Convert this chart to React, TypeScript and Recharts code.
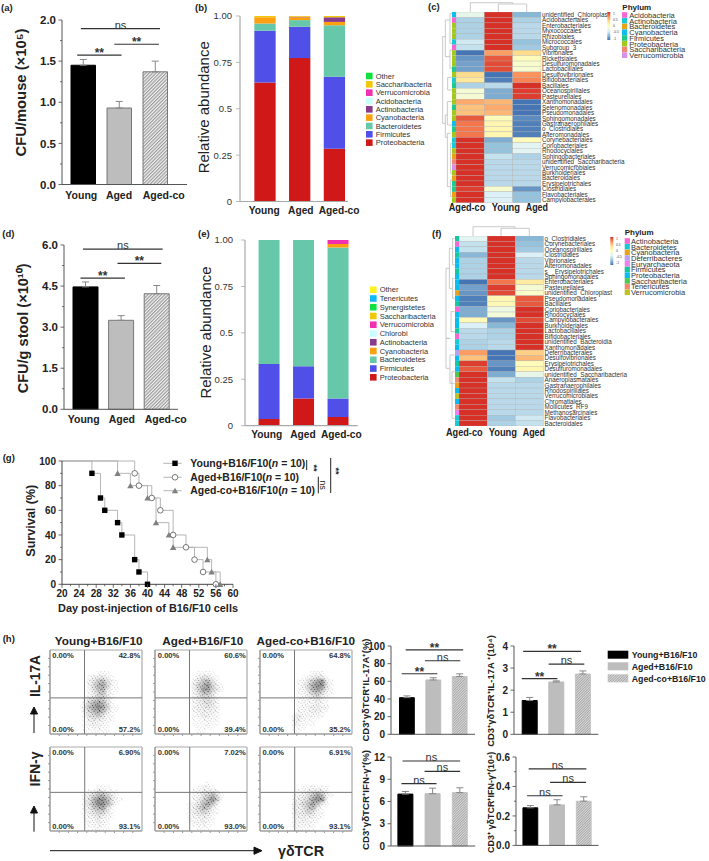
import React from 'react';
import { BarChart, Bar, XAxis, YAxis, Cell, ErrorBar, ReferenceLine, LineChart, Line, ScatterChart, Scatter } from 'recharts';

const categories = ['Young', 'Aged', 'Aged-co'];

// panel (a)
const aValues = [1.45, 0.93, 1.37];
const aErrors = [0.07, 0.08, 0.13];
// panel (d)
const dValues = [4.47, 3.25, 4.22];
const dErrors = [0.18, 0.17, 0.3];
// panel (h) bars
const h1Values = [41.5, 61.5, 65.5];
const h1Errors = [2, 2.5, 3];
const h2Values = [1.53, 2.37, 2.73];
const h2Errors = [0.14, 0.05, 0.14];
const h3Values = [7, 7.05, 7.2];
const h3Errors = [0.35, 0.75, 0.65];
const h4Values = [0.255, 0.275, 0.3];
const h4Errors = [0.015, 0.035, 0.03];

// panel (b) stacks
const bLegend = ['Other', 'Saccharibacteria', 'Verrucomicrobia', 'Acidobacteria', 'Actinobacteria', 'Cyanobacteria', 'Bacteroidetes', 'Firmicutes', 'Proteobacteria'];
const bProteobacteria = [0.642, 0.773, 0.284];
const bFirmicutes = [0.278, 0.169, 0.389];
const bBacteroidetes = [0.04, 0.036, 0.277];
const bCyanobacteria = [0.033, 0.015, 0.018];
const bActinobacteria = [0, 0.003, 0.025];
const bSaccharibacteria = [0.007, 0.004, 0.007];
// panel (e) stacks
const eLegend = ['Other', 'Tenericutes', 'Synergistetes', 'Saccharibacteria', 'Verrucomicrobia', 'Chlorobi', 'Actinobacteria', 'Cyanobacteria', 'Bacteroidetes', 'Firmicutes', 'Proteobacteria'];
const eProteobacteria = [0.036, 0.147, 0.047];
const eFirmicutes = [0.296, 0.173, 0.1];
const eBacteroidetes = [0.668, 0.68, 0.812];
const eCyanobacteria = [0, 0, 0.019];
const eVerrucomicrobia = [0, 0, 0.022];

const phylumColors: Record<string, string> = {
  Other: '#10E040', Saccharibacteria: '#F0C808', Verrucomicrobia: '#F030B0', Acidobacteria: '#C8FFFF', Actinobacteria: '#8A3C8C',
  Cyanobacteria: '#FFA010', Bacteroidetes: '#66C8A8', Firmicutes: '#5050E8', Proteobacteria: '#D01818',
  Tenericutes: '#10B8F8', Synergistetes: '#10E040', Chlorobi: '#C8FFFF',
};

// panel (c) heatmap
const cRows = ['unidentified_Chloroplast', 'Acidobacteriales', 'Enterobacteriales', 'Myxococcales', 'Rhizobiales', 'Micrococcales', 'Subgroup_3', 'Vibrionales', 'Rickettsiales', 'Desulfuromonadales', 'Lactobacillales', 'Desulfovibrionales', 'Bifidobacteriales', 'Bacillales', 'Oceanospirillales', 'Pasteurellales', 'Xanthomonadales', 'Selenomonadales', 'Pseudomonadales', 'Sphingomonadales', 'Gastranaerophilales', 'o_Clostridiales', 'Alteromonadales', 'Corynebacteriales', 'Coriobacteriales', 'Rhodocyclales', 'Sphingobacteriales', 'unidentified_Saccharibacteria', 'Verrucomicrobiales', 'Burkholderiales', 'Bacteroidales', 'Erysipelotrichales', 'Clostridiales', 'Flavobacteriales', 'Campylobacterales'];
const cAgedCo = [-0.25, -0.55, -0.55, -0.55, -0.55, -0.4, -0.45, -1, -0.85, -0.8, -0.8, 0.35, 0.25, -0.55, -0.12, -0.12, 0.55, 0.45, 0.45, 0.85, 0.75, 0.75, 0.75, 1, 1, 1, 1, 1, 1, 1, 1, 1, 0.95, 1, 1];
const cYoung = [1, 1, 1, 1, 1, 1, 1, 0.6, 0.85, 0.9, 0.9, -1, -0.95, -0.5, -0.75, -0.75, 0.5, 0.55, 0.5, 0.03, 0.1, 0.1, 0.1, -0.75, -0.65, -0.65, -0.45, -0.5, -0.5, -0.5, -0.5, -0.5, -0.1, -0.35, -0.35];
const cAged = [-0.7, -0.55, -0.5, -0.5, -0.5, -0.65, -0.6, 0.35, 0.03, -0.08, -0.1, 0.65, 0.7, 1, 0.95, 0.95, -1, -1, -1, -0.9, -0.95, -0.95, -0.95, 0.03, -0.3, -0.3, -0.55, -0.5, -0.5, -0.5, -0.5, -0.5, -0.85, -0.65, -0.65];
const cPhyla = ['Cyanobacteria', 'Acidobacteria', 'Proteobacteria', 'Proteobacteria', 'Proteobacteria', 'Actinobacteria', 'Acidobacteria', 'Proteobacteria', 'Proteobacteria', 'Proteobacteria', 'Firmicutes', 'Proteobacteria', 'Actinobacteria', 'Firmicutes', 'Proteobacteria', 'Proteobacteria', 'Proteobacteria', 'Firmicutes', 'Proteobacteria', 'Proteobacteria', 'Cyanobacteria', 'Firmicutes', 'Proteobacteria', 'Actinobacteria', 'Actinobacteria', 'Proteobacteria', 'Bacteroidetes', 'Saccharibacteria', 'Verrucomicrobia', 'Proteobacteria', 'Bacteroidetes', 'Firmicutes', 'Firmicutes', 'Bacteroidetes', 'Proteobacteria'];
const cLegend = ['Acidobacteria', 'Actinobacteria', 'Bacteroidetes', 'Cyanobacteria', 'Firmicutes', 'Proteobacteria', 'Saccharibacteria', 'Verrucomicrobia'];
const cPhylumColors: Record<string, string> = { Acidobacteria: '#F766D3', Actinobacteria: '#19C9D6', Bacteroidetes: '#E8A21A', Cyanobacteria: '#10BCEC', Firmicutes: '#20C88C', Proteobacteria: '#A2C820', Saccharibacteria: '#F08878', Verrucomicrobia: '#D88FEA' };

// panel (f) heatmap
const fRows = ['o_Clostridiales', 'Corynebacteriales', 'Oceanospirillales', 'Clostridiales', 'Vibrionales', 'Alteromonadales', 's__Erysipelotrichales', 'Sphingomonadales', 'Enterobacteriales', 'Pasteurellales', 'unidentified_Chloroplast', 'Pseudomonadales', 'Bacillales', 'Coriobacteriales', 'Rhodocyclales', 'Campylobacterales', 'Burkholderiales', 'Lactobacillales', 'Bifidobacteriales', 'unidentified_Bacteroidia', 'Xanthomonadales', 'Deferribacterales', 'Desulfovibrionales', 'Erysipelotrichales', 'Desulfuromonadales', 'unidentified_Saccharibacteria', 'Anaeroplasmatales', 'Gastranaerophilales', 'Rhodospirillales', 'Verrucomicrobiales', 'Chromatiales', 'Mollicutes_RF9', 'Methanosarcinales', 'Flavobacteriales', 'Bacteroidales'];
const fAgedCo = [-0.3, -0.45, -0.45, -0.7, -0.55, -0.55, -0.55, -0.55, -1, -0.8, -0.85, -0.95, -0.95, -0.75, -0.75, 0.06, -0.35, -0.5, -0.5, -0.55, -0.55, 0.6, 0.45, 0.95, 0.85, 1, 1, 1, 1, 1, 1, 1, 1, 1, 1];
const fYoung = [1, 1, 1, 1, 1, 1, 1, 1, 0.75, 0.95, 0.9, 0.08, 0.08, -0.2, -0.15, -0.85, -0.7, -0.55, -0.55, -0.5, -0.5, -1, -1, -0.85, -0.95, -0.75, -0.45, -0.5, -0.5, -0.5, -0.5, -0.5, -0.5, -0.6, -0.55];
const fAged = [-0.7, -0.65, -0.6, -0.35, -0.5, -0.5, -0.5, -0.5, 0.2, -0.12, -0.05, 0.85, 0.85, 1, 1, 0.9, 1, 1, 1, 1, 1, 0.4, 0.5, 0.04, 0.1, -0.25, -0.55, -0.5, -0.5, -0.5, -0.5, -0.5, -0.5, -0.4, -0.45];
const fPhyla = ['Firmicutes', 'Actinobacteria', 'Proteobacteria', 'Firmicutes', 'Proteobacteria', 'Proteobacteria', 'Firmicutes', 'Proteobacteria', 'Proteobacteria', 'Proteobacteria', 'Cyanobacteria', 'Proteobacteria', 'Firmicutes', 'Actinobacteria', 'Proteobacteria', 'Proteobacteria', 'Proteobacteria', 'Firmicutes', 'Actinobacteria', 'Bacteroidetes', 'Proteobacteria', 'Deferribacteres', 'Proteobacteria', 'Firmicutes', 'Proteobacteria', 'Saccharibacteria', 'Tenericutes', 'Cyanobacteria', 'Proteobacteria', 'Verrucomicrobia', 'Proteobacteria', 'Tenericutes', 'Euryarchaeota', 'Bacteroidetes', 'Bacteroidetes'];
const fLegend = ['Actinobacteria', 'Bacteroidetes', 'Cyanobacteria', 'Deferribacteres', 'Euryarchaeota', 'Firmicutes', 'Proteobacteria', 'Saccharibacteria', 'Tenericutes', 'Verrucomicrobia'];
const fPhylumColors: Record<string, string> = { Actinobacteria: '#F766D3', Bacteroidetes: '#19C9D6', Cyanobacteria: '#E8A21A', Deferribacteres: '#B8A0F0', Euryarchaeota: '#F080F0', Firmicutes: '#12C8A0', Proteobacteria: '#08BCF0', Saccharibacteria: '#50C850', Tenericutes: '#F08870', Verrucomicrobia: '#C0C020' };
const colorBarLabels = ['1', '0.5', '0', '-0.5', '-1'];

// panel (g) survival, [day, percent]
const gYoung = [[20, 100], [27, 90], [29, 70], [30, 60], [33, 50], [34, 40], [37, 20], [38, 10], [40, 0]];
const gAged = [[20, 100], [37, 90], [38, 80], [41, 70], [43, 60], [46, 40], [49, 30], [51, 20], [53, 10], [56, 0]];
const gAgedCo = [[20, 100], [33, 90], [36, 80], [40, 70], [42, 50], [45, 40], [46, 30], [54, 20], [55, 10], [57, 0]];

// panel (h) flow plots, estimated dot density 0-9 on a 20x20 grid, top row first
const flowYoungIL = ['', '', '', '', '', '00000000001110', '00000000133421', '00000000246742100', '00000000257852100', '00000000146731100', '00000000135631', '00000001345531', '00000002578741', '00000003689851100', '00000003578741100', '00000002456421', '00000001343321', '00000001232210', '00000001122110', '00000001111110'];
const flowAgedIL = ['', '', '', '', '', '00000000011110', '00000000134421', '00000000246741', '00000000367953100', '00000000258853100', '00000000246641', '00000000234431', '00000000234542', '00000000233432', '00000000233332', '00000000123321', '00000000112221', '00000000111211', '00000000011110', '0000000001100'];
const flowAgedCoIL = ['', '', '', '', '', '00000000000121', '00000000012343100', '00000000124689310', '00000000135899410', '00000000124786310', '00000000123564210', '00000000122342100', '00000000122232100', '00000000122332200', '00000000222332100', '00000002322221', '00000003321110', '00000003211100', '00000002110000', '00000001100000'];
const flowYoungIFN = ['', '', '', '', '', '', '', '', '', '00000000001110', '00000000124321100', '00000001356753100', '00000002479974210', '00000002479974100', '00000002367841', '00000001345531', '00000001234321', '00000001223210', '00000000122210', '00000000112110'];
const flowAgedIFN = ['', '', '', '', '', '', '', '', '00000000000100', '00000000012210', '00000000123332', '00000000124574100', '00000000235796100', '00000001246862', '00000001357631', '00000001345421', '00000001233310', '00000001223210', '00000000122110', '00000000011100'];
const flowAgedCoIFN = ['', '', '', '', '', '', '', '', '', '00000000011211100', '00000000123343200', '00000001234686310', '00000002345899200', '00000003356862100', '00000003346731', '00000003345421', '00000002333321', '00000002232210', '00000002222100', '00000001211100'];

const barFills = ['#000', '#bdbdbd', 'url(#hatch)'];
const barStrokes = ['#000', '#777', '#777'];
const barFillsH = ['#000', '#bdbdbd', 'url(#hatchFine)'];
const barStrokesH = ['#000', '#bdbdbd', '#c4c4c4'];

const FONT = '"Liberation Sans", Arial, sans-serif';

type Bracket = { x1: number; x2: number; y: number; text: string };

const box = (l: number, t: number, w: number, h: number): React.CSSProperties => ({ position: 'absolute', left: l, top: t, width: w, height: h });

const axisTick = (major: number[], fmt: (v: number) => string, fs: number, weight: number, len: number, fill: string, gap: number, stroke = '#444') => (p: any) => {
  const v = p.payload.value;
  const isMajor = major.some((m) => Math.abs(m - v) < 1e-6);
  return (
    <g>
      <line x1={p.x} x2={p.x - (isMajor ? len : len * 0.55)} y1={p.y} y2={p.y} stroke={stroke} strokeWidth={0.8} />
      {isMajor && <text x={p.x - gap} y={p.y + fs * 0.36} textAnchor="end" fontSize={fs} fontWeight={weight} fill={fill} fontFamily={FONT}>{fmt(v)}</text>}
    </g>
  );
};

const catTick = (offs: number[], fs: number, dy: number) => (p: any) => {
  const i = Math.round(p.payload.value) - 1;
  return <text x={p.x + offs[i]} y={p.y + dy} textAnchor="middle" fontSize={fs} fontWeight={700} fill="#222" fontFamily={FONT}>{categories[i]}</text>;
};

const toRows = (vals: number[], errs: number[]) => vals.map((v, i) => ({ x: i + 1, v, err: [0, errs[i]] }));

const PAD_T = 14, PAD_R = 24;

function ValueBars(props: {
  x0: number; x1: number; top: number; bottom: number; c1: number; sp: number; barW: number; max: number;
  ticks: number[]; major: number[]; fmt: (v: number) => string; vals: number[]; errs: number[]; fills: string[]; strokes: string[];
  brackets: Bracket[]; labelOffs?: number[]; fs: number;
}) {
  const { x0, x1, top, bottom, c1, sp, barW, max, ticks, major, fmt, vals, errs, fills, strokes, brackets, labelOffs, fs } = props;
  const yw = 40, xh = 20;
  const W = x1 - x0 + yw + PAD_R, H = bottom - top + xh + PAD_T;
  return (
    <div style={box(x0 - yw, top - PAD_T, W, H)}>
      <BarChart width={W} height={H} data={toRows(vals, errs)} margin={{ top: PAD_T, right: PAD_R, bottom: 0, left: 0 }}>
        <XAxis dataKey="x" type="number" domain={[1 + (x0 - c1) / sp, 1 + (x1 - c1) / sp]} ticks={labelOffs ? [1, 2, 3] : []} height={xh} tick={labelOffs ? catTick(labelOffs, 10.5, 12) : false} tickLine={false} tickSize={0} stroke="#555" allowDataOverflow />
        <YAxis type="number" domain={[0, max]} ticks={ticks} width={yw} interval={0} tick={axisTick(major, fmt, fs, 700, 3.5, '#222', 6)} tickLine={false} tickSize={0} tickMargin={0} stroke="#555" />
        <Bar dataKey="v" barSize={barW} isAnimationActive={false}>
          {vals.map((_, i) => <Cell key={i} fill={fills[i]} stroke={strokes[i]} strokeWidth={1} />)}
          <ErrorBar dataKey="err" direction="y" width={3.5} stroke="#888" strokeWidth={1} isAnimationActive={false} />
        </Bar>
        {brackets.map((b, i) => (
          <ReferenceLine key={i} segment={[{ x: b.x1, y: b.y }, { x: b.x2, y: b.y }]} stroke="#333" strokeWidth={1.2} ifOverflow="visible"
            label={{ value: b.text, position: 'top', offset: b.text === 'ns' ? 0 : -2, fontSize: b.text === 'ns' ? 11 : 12, fill: '#333', fontFamily: FONT, fontWeight: b.text === 'ns' ? 400 : 700 }} />
        ))}
      </BarChart>
    </div>
  );
}

function StackBars(props: {
  x0: number; x1: number; top: number; bottom: number; c1: number; sp: number; barW: number;
  series: { key: string; vals: number[] }[]; labelOffs: number[]; gap: number;
}) {
  const { x0, x1, top, bottom, c1, sp, barW, series, labelOffs, gap } = props;
  const yw = 40, xh = 20;
  const W = x1 - x0 + yw + PAD_R, H = bottom - top + xh + PAD_T;
  const rows = categories.map((_, i) => { const r: any = { x: i + 1 }; series.forEach((s) => { r[s.key] = s.vals[i]; }); return r; });
  return (
    <div style={box(x0 - yw, top - PAD_T, W, H)}>
      <BarChart width={W} height={H} data={rows} margin={{ top: PAD_T, right: PAD_R, bottom: 0, left: 0 }}>
        <XAxis dataKey="x" type="number" domain={[1 + (x0 - c1) / sp, 1 + (x1 - c1) / sp]} ticks={[1, 2, 3]} height={xh} tick={catTick(labelOffs, 10.2, 10)} tickLine={false} tickSize={0} stroke="#aaa" strokeWidth={1.2} allowDataOverflow />
        <YAxis type="number" domain={[0, 1]} ticks={[0, 0.25, 0.5, 0.75, 1]} width={yw} interval={0}
          tick={axisTick([0, 0.25, 0.5, 0.75, 1], (v) => (v === 0 ? '0' : v === 1 ? '1.00' : String(v)), 9.5, 400, 4, '#333', gap, '#aaa')} tickLine={false} tickSize={0} tickMargin={0} stroke="#aaa" strokeWidth={1.2} />
        {series.map((s) => <Bar key={s.key} dataKey={s.key} stackId="a" barSize={barW} fill={phylumColors[s.key]} isAnimationActive={false} />)}
      </BarChart>
    </div>
  );
}

const ramp: [number, number[]][] = [[-1, [69, 117, 180]], [-0.667, [145, 191, 219]], [-0.333, [224, 243, 248]], [0, [255, 255, 191]], [0.333, [254, 224, 144]], [0.667, [252, 141, 89]], [1, [215, 48, 39]]];
const heatColor = (v: number) => {
  for (let i = 1; i < ramp.length; i++) {
    if (v <= ramp[i][0]) {
      const t = (v - ramp[i - 1][0]) / (ramp[i][0] - ramp[i - 1][0]);
      const c = ramp[i][1].map((b, k) => Math.round(ramp[i - 1][1][k] + (b - ramp[i - 1][1][k]) * t));
      return `rgb(${c.join(',')})`;
    }
  }
  return 'rgb(215,48,39)';
};

function Heat(props: { x0: number; annW: number; colW: number; top: number; rowH: number; rows: string[]; cols: number[][]; phyla: string[]; colors: Record<string, string> }) {
  const { x0, annW, colW, top, rowH, rows, cols, phyla, colors } = props;
  const n = rows.length, labelW = 105;
  const plotW = annW + colW * 3;
  const unit = annW / colW;
  const cells: any[] = [];
  rows.forEach((_, r) => {
    cols.forEach((col, c) => cells.push({ x: c + 0.5, y: r + 0.5, fill: heatColor(col[r]), w: colW, bw: 0.3 }));
    cells.push({ x: -unit / 2, y: r + 0.5, fill: colors[phyla[r]], w: annW, bw: 0 });
  });
  const shape = (p: any) => {
    const d = p.payload;
    return <rect x={p.cx - d.w / 2} y={p.cy - rowH / 2} width={d.w} height={rowH} fill={d.fill} stroke={d.bw ? '#a9a9a9' : 'none'} strokeWidth={d.bw} />;
  };
  return (
    <div style={box(x0, top, plotW + labelW, rowH * n)}>
      <ScatterChart width={plotW + labelW} height={rowH * n} margin={{ top: 0, right: 0, bottom: 0, left: 0 }}>
        <XAxis dataKey="x" type="number" domain={[-unit, 3]} hide />
        <YAxis dataKey="y" type="number" orientation="right" reversed domain={[0, n]} ticks={rows.map((_, i) => i + 0.5)} interval={0} width={labelW}
          tickFormatter={(v: number) => rows[Math.floor(v)]} tick={{ fontSize: 6.3, fill: '#333', fontFamily: FONT }} axisLine={false} tickLine={false} tickSize={0} tickMargin={1} />
        <Scatter data={cells} shape={shape} isAnimationActive={false} />
      </ScatterChart>
    </div>
  );
}

const CELLW = 4.6, CELLH = 4.2;
function Flow(props: { x0: number; top: number; grid: string[]; gateX: number; gateY: number }) {
  const { x0, top, grid, gateX, gateY } = props;
  const pts: any[] = [];
  grid.forEach((row, r) => row.split('').forEach((ch, c) => { if (ch !== '0') pts.push({ x: c + 0.5, y: r + 0.5, d: Number(ch) }); }));
  const shape = (p: any) => {
    const d = p.payload.d;
    return (
      <g>
        <rect x={p.cx - CELLW / 2} y={p.cy - CELLH / 2} width={CELLW} height={CELLH} fill="#000" opacity={d * d * 0.006} style={{ filter: 'blur(1.4px)' }} />
        <rect x={p.cx - CELLW / 2} y={p.cy - CELLH / 2} width={CELLW} height={CELLH} fill="url(#stipple)" opacity={Math.min(1, 0.15 + d * 0.1)} style={{ filter: 'blur(0.25px)' }} />
      </g>
    );
  };
  const edge = [0, 20];
  return (
    <div style={box(x0 - 4, top - 2, 98, 90)}>
      <ScatterChart width={98} height={90} margin={{ top: 2, right: 2, bottom: 0, left: 0 }}>
        <XAxis dataKey="x" type="number" domain={[0, 20]} ticks={[2, 4, 6, 8, 10, 12, 14, 16, 18]} height={4} tickSize={2} tickMargin={0} tickFormatter={() => ''} stroke="#999" />
        <YAxis dataKey="y" type="number" reversed domain={[0, 20]} ticks={[2, 4, 6, 8, 10, 12, 14, 16, 18]} width={4} tickSize={2} tickMargin={0} tickFormatter={() => ''} stroke="#999" />
        <Scatter data={pts} shape={shape} isAnimationActive={false} />
        {edge.map((e) => <ReferenceLine key={'x' + e} x={e} stroke="#aaa" strokeWidth={1.2} ifOverflow="visible" />)}
        {edge.map((e) => <ReferenceLine key={'y' + e} y={e} stroke="#aaa" strokeWidth={1.2} ifOverflow="visible" />)}
        <ReferenceLine x={gateX} stroke="#777" strokeWidth={1} />
        <ReferenceLine y={gateY} stroke="#777" strokeWidth={1} />
      </ScatterChart>
    </div>
  );
}

const T = ({ x, y, s, b, a, c, rot, len, children }: any) => (
  <text x={x} y={y} fontSize={s} fontWeight={b ? 700 : 400} textAnchor={a || 'start'} fill={c || '#222'} fontFamily={FONT}
    transform={rot ? `rotate(-90 ${x} ${y})` : undefined} textLength={len} lengthAdjust={len ? 'spacingAndGlyphs' : undefined}>{children}</text>
);

const survivalRows = (arr: number[][]) => arr.map(([x, y]) => ({ x, y }));
const marker = (kind: string) => (p: any) => {
  if (p.index === 0) return <g key={p.index} />;
  return <g key={p.index}><Mark kind={kind} x={p.cx} y={p.cy} /></g>;
};
const Mark = ({ kind, x, y }: any) => {
  if (kind === 'square') return <rect x={x - 2.7} y={y - 2.7} width={5.4} height={5.4} fill="#000" />;
  if (kind === 'circle') return <circle cx={x} cy={y} r={2.8} fill="#fff" stroke="#555" strokeWidth={0.8} />;
  return <path d={`M${x - 3.2} ${y + 2.6}L${x} ${y - 3}L${x + 3.2} ${y + 2.6}Z`} fill="#808080" />;
};

const rowDendroC = [[20, 110, 370, 28], [28, 60, 170, 42], [42, 40, 130, 48], [42, 150, 205, 48], [35, 232, 270, 48], [34, 305, 375, 48], [28, 345, 412, 34], [34, 400, 560, 44], [44, 430, 520, 48], [44, 540, 590, 48]];
const rowDendroF = [[30, 130, 340, 40], [40, 70, 190, 50], [50, 40, 120, 56], [50, 160, 220, 56], [45, 260, 320, 56], [42, 390, 475, 56], [48, 440, 580, 56], [30, 340, 430, 42]];

const Dendro = ({ segs, ox, oy }: any) => (
  <g stroke="#bbb" strokeWidth={0.8} fill="none">
    {segs.map(([x, y1, y2, xe]: number[], i: number) => (
      <path key={i} d={`M${ox + xe / 3} ${oy + y1 / 3}H${ox + x / 3}V${oy + y2 / 3}H${ox + xe / 3}`} />
    ))}
  </g>
);

export default function App() {
  const flowCols = [49.7, 155.3, 260];
  const flowPct = [['42.8%', '57.2%'], ['60.6%', '39.4%'], ['64.8%', '35.2%'], ['6.90%', '93.1%'], ['7.02%', '93.0%'], ['6.91%', '93.1%']];
  const stackB = [
    { key: 'Proteobacteria', vals: bProteobacteria }, { key: 'Firmicutes', vals: bFirmicutes }, { key: 'Bacteroidetes', vals: bBacteroidetes },
    { key: 'Cyanobacteria', vals: bCyanobacteria }, { key: 'Actinobacteria', vals: bActinobacteria }, { key: 'Saccharibacteria', vals: bSaccharibacteria },
  ];
  const stackE = [
    { key: 'Proteobacteria', vals: eProteobacteria }, { key: 'Firmicutes', vals: eFirmicutes }, { key: 'Bacteroidetes', vals: eBacteroidetes },
    { key: 'Cyanobacteria', vals: eCyanobacteria }, { key: 'Verrucomicrobia', vals: eVerrucomicrobia },
  ];
  const f1 = (v: number) => v.toFixed(1);
  const fi = (v: number) => String(v);
  const eColor = (n: string) => (n === 'Other' ? '#FFF020' : phylumColors[n]);
  const hLegendRows = ['Young+B16/F10', 'Aged+B16/F10', 'Aged-co+B16/F10'];
  const gTicks = [20, 22, 24, 26, 28, 30, 32, 34, 36, 38, 40, 42, 44, 46, 48, 50, 52, 54, 56, 58, 60];
  const gMajor = [20, 24, 28, 32, 36, 40, 44, 48, 52, 56, 60];
  const xTickG = (p: any) => {
    const v = p.payload.value;
    const maj = gMajor.includes(v);
    return (
      <g>
        <line x1={p.x} x2={p.x} y1={p.y} y2={p.y + (maj ? 3.5 : 2)} stroke="#444" strokeWidth={0.8} />
        {maj && <text x={p.x} y={p.y + 13} textAnchor="middle" fontSize={10} fontWeight={700} fill="#222" fontFamily={FONT}>{v}</text>}
      </g>
    );
  };
  return (
    <div style={{ position: 'absolute', left: 0, top: 0, width: 709, height: 861, background: '#fff', overflow: 'hidden', fontFamily: FONT }}>
      <svg width={0} height={0} style={{ position: 'absolute' }}>
        <defs>
          <pattern id="hatch" width={2.4} height={2.4} patternUnits="userSpaceOnUse" patternTransform="rotate(45)">
            <rect width={2.4} height={2.4} fill="#f4f4f4" />
            <rect width={1.2} height={2.4} fill="#9a9a9a" />
          </pattern>
          <pattern id="hatchFine" width={1.8} height={1.8} patternUnits="userSpaceOnUse" patternTransform="rotate(45)">
            <rect width={1.8} height={1.8} fill="#d8d8d8" />
            <rect width={0.9} height={1.8} fill="#a8a8a8" />
          </pattern>
          <pattern id="stipple" width={11} height={9} patternUnits="userSpaceOnUse">
            {[[0.6, 1.1], [3.7, 0.3], [7.3, 1.5], [9.6, 0.2], [2, 3.1], [5.2, 2.6], [8.7, 3.6], [0.4, 4.7], [3.3, 5.2], [6.5, 4.6], [10, 5.4], [1.7, 7], [4.8, 7.4], [7.8, 6.6], [9.2, 8]].map(([x, y], i) => (
              <rect key={i} x={x} y={y} width={0.8} height={0.8} fill="#111" />
            ))}
          </pattern>
          <linearGradient id="heatBar" x1="0" y1="0" x2="0" y2="1">
            {ramp.slice().reverse().map(([v, c], i) => <stop key={i} offset={(1 - v) / 2} stopColor={`rgb(${c.join(',')})`} />)}
          </linearGradient>
        </defs>
      </svg>

      <ValueBars x0={62} x1={187} top={20} bottom={184.5} c1={83} sp={36} barW={24.5} max={2}
        ticks={[0, 0.25, 0.5, 0.75, 1, 1.25, 1.5, 1.75, 2]} major={[0, 0.5, 1, 1.5, 2]} fmt={f1} vals={aValues} errs={aErrors} fills={barFills} strokes={barStrokes} fs={11.5}
        labelOffs={[-1.7, 0, 8.7]}
        brackets={[{ x1: 0.94, x2: 3.14, y: 1.894, text: 'ns' }, { x1: 1.87, x2: 3.11, y: 1.705, text: '**' }, { x1: 0.84, x2: 2.07, y: 1.574, text: '**' }]} />
      <ValueBars x0={64} x1={178} top={245} bottom={409.3} c1={85.8} sp={35.6} barW={25} max={6}
        ticks={[0, 0.75, 1.5, 2.25, 3, 3.75, 4.5, 5.25, 6]} major={[0, 1.5, 3, 4.5, 6]} fmt={f1} vals={dValues} errs={dErrors} fills={barFills} strokes={barStrokes} fs={11.5}
        labelOffs={[-2.1, 0.4, 8.7]}
        brackets={[{ x1: 0.92, x2: 3.16, y: 5.85, text: 'ns' }, { x1: 1.89, x2: 3.12, y: 5.33, text: '**' }, { x1: 0.85, x2: 2.1, y: 4.79, text: '**' }]} />

      <StackBars x0={240} x1={348} top={15.5} bottom={201} c1={264.7} sp={34.7} barW={21.3} series={stackB} labelOffs={[-0.4, 1.4, 5]} gap={8} />
      <StackBars x0={245} x1={357.7} top={240} bottom={425.7} c1={268.8} sp={34.5} barW={21} series={stackE} labelOffs={[-2.1, -0.3, 3.5]} gap={12} />

      <Heat x0={452} annW={4} colW={28.33} top={12} rowH={5.45} rows={cRows} cols={[cAgedCo, cYoung, cAged]} phyla={cPhyla} colors={cPhylumColors} />
      <Heat x0={454.7} annW={4} colW={28.2} top={236} rowH={5.43} rows={fRows} cols={[fAgedCo, fYoung, fAged]} phyla={fPhyla} colors={fPhylumColors} />

      <div style={box(62.3 - 40, 461 - PAD_T, 171 + 40 + PAD_R, 123.3 + 20 + PAD_T)}>
        <LineChart width={171 + 40 + PAD_R} height={123.3 + 20 + PAD_T} margin={{ top: PAD_T, right: PAD_R, bottom: 0, left: 0 }}>
          <XAxis dataKey="x" type="number" domain={[20, 60]} ticks={gTicks} interval={0} height={20} tick={xTickG} tickLine={false} tickSize={0} tickMargin={0} stroke="#444" />
          <YAxis dataKey="y" type="number" domain={[0, 100]} ticks={[0, 10, 20, 30, 40, 50, 60, 70, 80, 90, 100]} interval={0} width={40}
            tick={axisTick([0, 20, 40, 60, 80, 100], fi, 10, 700, 3.5, '#222', 6)} tickLine={false} tickSize={0} tickMargin={0} stroke="#444" />
          <Line data={survivalRows(gYoung)} dataKey="y" type="stepAfter" stroke="#b5b5b5" strokeWidth={1} dot={marker('square')} isAnimationActive={false} />
          <Line data={survivalRows(gAged)} dataKey="y" type="stepAfter" stroke="#b5b5b5" strokeWidth={1} dot={marker('circle')} isAnimationActive={false} />
          <Line data={survivalRows(gAgedCo)} dataKey="y" type="stepAfter" stroke="#b5b5b5" strokeWidth={1} dot={marker('tri')} isAnimationActive={false} />
        </LineChart>
      </div>

      {[flowYoungIL, flowAgedIL, flowAgedCoIL].map((g, i) => <Flow key={i} x0={flowCols[i]} top={650} grid={g} gateX={7.5} gateY={11.4} />)}
      {[flowYoungIFN, flowAgedIFN, flowAgedCoIFN].map((g, i) => <Flow key={i} x0={flowCols[i]} top={747.3} grid={g} gateX={7.55} gateY={10.8} />)}

      <ValueBars x0={391} x1={475} top={646} bottom={734.3} c1={406.7} sp={26.4} barW={14.8} max={100}
        ticks={[0, 20, 40, 60, 80, 100]} major={[0, 20, 40, 60, 80, 100]} fmt={fi} vals={h1Values} errs={h1Errors} fills={barFillsH} strokes={barStrokesH} fs={10}
        brackets={[{ x1: 0.96, x2: 3.14, y: 95.5, text: '**' }, { x1: 1.69, x2: 3.03, y: 83.3, text: 'ns' }, { x1: 0.81, x2: 2.16, y: 68.6, text: '**' }]} />
      <ValueBars x0={514} x1={598.3} top={646} bottom={734.3} c1={529.5} sp={26.6} barW={15} max={4}
        ticks={[0, 1, 2, 3, 4]} major={[0, 1, 2, 3, 4]} fmt={fi} vals={h2Values} errs={h2Errors} fills={barFillsH} strokes={barStrokesH} fs={10}
        brackets={[{ x1: 0.76, x2: 2.94, y: 3.76, text: '**' }, { x1: 1.72, x2: 3.06, y: 3.18, text: 'ns' }, { x1: 0.71, x2: 2.05, y: 2.52, text: '**' }]} />
      <ValueBars x0={390.7} x1={475} top={756.7} bottom={845.7} c1={405.2} sp={27.2} barW={15} max={12}
        ticks={[0, 3, 6, 9, 12]} major={[0, 3, 6, 9, 12]} fmt={fi} vals={h3Values} errs={h3Errors} fills={barFillsH} strokes={barStrokesH} fs={10}
        brackets={[{ x1: 0.89, x2: 3.01, y: 11.46, text: 'ns' }, { x1: 1.7, x2: 3.01, y: 10.07, text: 'ns' }, { x1: 0.85, x2: 2.14, y: 8.41, text: 'ns' }]} />
      <ValueBars x0={515.7} x1={598.3} top={757.3} bottom={845.7} c1={530} sp={26.7} barW={14.8} max={0.6}
        ticks={[0, 0.1, 0.2, 0.3, 0.4, 0.5, 0.6]} major={[0, 0.2, 0.4, 0.6]} fmt={f1} vals={h4Values} errs={h4Errors} fills={barFillsH} strokes={barStrokesH} fs={10}
        brackets={[{ x1: 0.94, x2: 3.1, y: 0.519, text: 'ns' }, { x1: 1.74, x2: 3.09, y: 0.428, text: 'ns' }, { x1: 0.88, x2: 2.21, y: 0.337, text: 'ns' }]} />

      <svg width={709} height={861} style={{ position: 'absolute', left: 0, top: 0, pointerEvents: 'none' }}>
        <T x={1} y={11} s={9.5} b>(a)</T>
        <T x={195} y={11} s={9.5} b>(b)</T>
        <T x={428} y={10} s={9.5} b>(c)</T>
        <T x={2.3} y={236.7} s={9.5} b>(d)</T>
        <T x={198} y={236.7} s={9.5} b>(e)</T>
        <T x={432} y={236.7} s={9.5} b>(f)</T>
        <T x={2.7} y={460.7} s={9.5} b>(g)</T>
        <T x={2.7} y={641.7} s={9.5} b>(h)</T>

        <T x={26} y={92.5} s={14} b a="middle" rot len={128}>CFU/mouse (×10⁵)</T>
        <T x={28} y={328.3} s={14} b a="middle" rot len={130}>CFU/g stool (×10¹⁰)</T>
        <T x={209} y={107.3} s={14.5} a="middle" rot len={132}>Relative abundance</T>
        <T x={210.7} y={332.5} s={14.5} a="middle" rot len={132}>Relative abundance</T>

        {bLegend.map((n, i) => (
          <g key={n}>
            <rect x={366} y={72.7 + i * 8.33} width={6.6} height={6.6} fill={phylumColors[n]} />
            <T x={375.7} y={78.7 + i * 8.33} s={7.5} c="#333">{n}</T>
          </g>
        ))}
        {eLegend.map((n, i) => (
          <g key={n}>
            <rect x={370} y={286.4 + i * 8.76} width={6.6} height={6.6} fill={eColor(n)} />
            <T x={379.7} y={292.3 + i * 8.76} s={7.5} c="#333">{n}</T>
          </g>
        ))}

        <path d="M470.3 12V2.7H512.7V4M498.3 12V4H526.7V12" stroke="#bbb" strokeWidth={0.8} fill="none" />
        <path d="M473 236V226.7H515V228.3M501 236V228.3H529.3V236" stroke="#bbb" strokeWidth={0.8} fill="none" />
        <Dendro segs={rowDendroC} ox={436} oy={0} />
        <Dendro segs={rowDendroF} ox={436} oy={225} />
        <T x={448.7} y={211} s={10.3} b len={36.6}>Aged-co</T>
        <T x={491.7} y={211} s={10.3} b len={28.3}>Young</T>
        <T x={525.7} y={211} s={10.3} b len={22.3}>Aged</T>
        <T x={446} y={435.7} s={10.3} b len={36.6}>Aged-co</T>
        <T x={488.7} y={435.7} s={10.3} b len={28.3}>Young</T>
        <T x={522.7} y={435.7} s={10.3} b len={22.3}>Aged</T>

        <rect x={607.3} y={12} width={3} height={28} fill="url(#heatBar)" />
        {colorBarLabels.map((l, i) => <T key={i} x={613} y={14.8 + i * 6.2} s={3.4} c="#444">{l}</T>)}
        <T x={622.3} y={9.5} s={8} b>Phylum</T>
        {cLegend.map((n, i) => (
          <g key={n}>
            <rect x={622} y={12.2 + i * 5.74} width={5.2} height={5.6} fill={cPhylumColors[n]} />
            <T x={629.3} y={17.8 + i * 5.74} s={7.5} c="#333">{n}</T>
          </g>
        ))}
        <rect x={610.3} y={237} width={3} height={28} fill="url(#heatBar)" />
        {colorBarLabels.map((l, i) => <T key={i} x={616} y={239.8 + i * 6} s={3.4} c="#444">{l}</T>)}
        <T x={624.7} y={235} s={8} b>Phylum</T>
        {fLegend.map((n, i) => (
          <g key={n}>
            <rect x={624.7} y={238.2 + i * 5.7} width={5.2} height={5.6} fill={fPhylumColors[n]} />
            <T x={631} y={243.8 + i * 5.7} s={7.5} c="#333">{n}</T>
          </g>
        ))}

        <T x={35} y={520.7} s={13} b a="middle" rot len={72}>Survival (%)</T>
        <T x={148} y={612} s={10.3} b a="middle" len={180}>Day post-injection of B16/F10 cells</T>
        {[['Young', 'square', 115], ['Aged', 'circle', 108.7], ['Aged-co', 'tri', 124.7]].map(([n, k, l]: any, i) => {
          const y = [463.3, 477.3, 490.7][i];
          return (
            <g key={n}>
              <line x1={163.3} x2={181.7} y1={y} y2={y} stroke="#b5b5b5" strokeWidth={1} />
              <Mark kind={k} x={175} y={y} />
              <T x={190.3} y={y + 3.6} s={10.3} b len={l}>{n}+B16/F10(<tspan fontStyle="italic">n</tspan> = 10)</T>
            </g>
          );
        })}
        <g stroke="#222" strokeWidth={1}>
          <line x1={306.7} x2={306.7} y1={460} y2={470} />
          <line x1={318.3} x2={318.3} y1={476.7} y2={493.3} />
          <line x1={330.7} x2={330.7} y1={458} y2={493} />
        </g>
        <g transform="rotate(90 311 468)"><T x={311} y={468} s={9} b a="middle">**</T></g>
        <g transform="rotate(90 320 485)"><T x={320} y={485} s={9} a="middle">ns</T></g>
        <g transform="rotate(90 333 471)"><T x={333} y={471} s={9} b a="middle">**</T></g>

        <T x={98.7} y={645} s={11.4} b a="middle" len={87.7}>Young+B16/F10</T>
        <T x={202.8} y={645} s={11.4} b a="middle" len={81}>Aged+B16/F10</T>
        <T x={305.8} y={645} s={11.4} b a="middle" len={98.5}>Aged-co+B16/F10</T>
        <T x={40} y={676} s={13.9} b a="middle" rot len={42}>IL-17A</T>
        <T x={40} y={769} s={13.9} b a="middle" rot len={35}>IFN-γ</T>
        <path d="M34 733V712M34 707l-3.5 7h7z" stroke="#111" strokeWidth={1} fill="#111" />
        <path d="M34 831.7V811M34 806l-3.5 7h7z" stroke="#111" strokeWidth={1} fill="#111" />
        <path d="M50 850.7H255M262 850.7l-8 -3.6v7.2z" stroke="#111" strokeWidth={1} fill="#111" />
        <T x={278} y={855.5} s={14} b len={46}>γδTCR</T>
        {flowPct.map(([up, lo], i) => {
          const px = flowCols[i % 3];
          const py = i < 3 ? 650 : 747.3;
          return (
            <g key={i}>
              <T x={px + 2.5} y={py + 8} s={7.6} b c="#333">0.00%</T>
              <T x={px + 90.5} y={py + 8} s={7.6} b a="end" c="#333">{up}</T>
              <T x={px + 2.5} y={py + 82} s={7.6} b c="#333">0.00%</T>
              <T x={px + 90.5} y={py + 82} s={7.6} b a="end" c="#333">{lo}</T>
            </g>
          );
        })}

        <T x={369} y={690} s={8.5} b a="middle" rot len={103}>CD3⁺γδTCR⁺IL-17A⁺(%)</T>
        <T x={494} y={691} s={8.5} b a="middle" rot len={111.7}>CD3⁺γδTCR⁺IL-17A ⁺(10⁴)</T>
        <T x={369} y={800} s={8.5} b a="middle" rot len={100}>CD3⁺γδTCR⁺IFN-γ⁺(%)</T>
        <T x={494} y={802.3} s={8.5} b a="middle" rot len={101.3}>CD3⁺ γδTCR⁺IFN-γ⁺(10⁴)</T>

        {hLegendRows.map((n, i) => (
          <g key={n}>
            <rect x={607.7} y={[650.7, 662.3, 674.3][i]} width={20.6} height={8} fill={barFillsH[i]} />
            <T x={631.7} y={[658, 669.5, 681.5][i]} s={8.8} b>{n}</T>
          </g>
        ))}
      </svg>
    </div>
  );
}
